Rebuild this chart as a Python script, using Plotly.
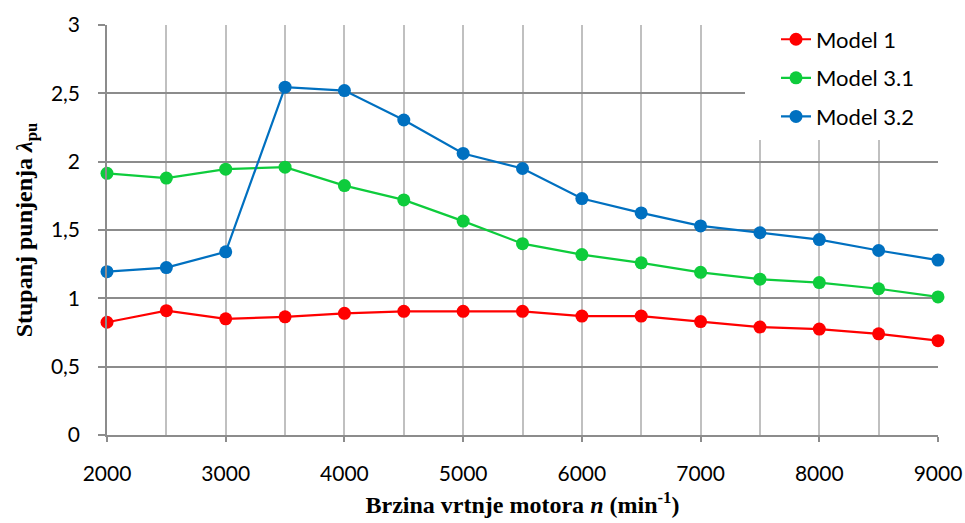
import plotly.graph_objects as go

speed = [2000, 2500, 3000, 3500, 4000, 4500, 5000, 5500, 6000, 6500, 7000, 7500, 8000, 8500, 9000]
model_1 = [0.825, 0.91, 0.85, 0.865, 0.89, 0.905, 0.905, 0.905, 0.87, 0.87, 0.83, 0.79, 0.775, 0.74, 0.69]
model_3_1 = [1.915, 1.88, 1.945, 1.96, 1.825, 1.72, 1.565, 1.40, 1.32, 1.26, 1.19, 1.14, 1.115, 1.07, 1.01]
model_3_2 = [1.195, 1.225, 1.34, 2.545, 2.52, 2.305, 2.06, 1.95, 1.73, 1.625, 1.53, 1.48, 1.43, 1.35, 1.28]

series_names = ["Model 1", "Model 3.1", "Model 3.2"]
series_colors = ["#ff0000", "#0ecc3c", "#0070c0"]

x_tickvals = [2000, 3000, 4000, 5000, 6000, 7000, 8000, 9000]
x_ticktext = ["2000", "3000", "4000", "5000", "6000", "7000", "8000", "9000"]
y_tickvals = [0, 0.5, 1, 1.5, 2, 2.5, 3]
y_ticktext = ["0", "0,5", "1", "1,5", "2", "2,5", "3"]

fig = go.Figure()
for i, (name, vals, col) in enumerate(zip(series_names, [model_1, model_3_1, model_3_2], series_colors)):
    fig.add_trace(go.Scatter(
        x=speed, y=vals, name=name, mode="lines+markers",
        line=dict(color=col, width=2.2),
        marker=dict(color=col, size=13),
        cliponaxis=False, legendgroup="g%d" % i,
    ))

tick_font = dict(family="Lato, Carlito, sans-serif", size=21, color="#000000")
title_font = dict(family="Liberation Serif, Times New Roman, serif", size=24, color="#000000")

# white background area behind the legend (as in the reference)
fig.add_shape(type="rect", xref="paper", yref="paper",
              x0=(745 - 107) / 831, x1=1.0, y0=(435 - 140) / 410, y1=1.03,
              fillcolor="white", line=dict(width=0), layer="above")

fig.update_layout(
    width=965, height=523,
    margin=dict(l=107, r=27, t=25, b=88),
    paper_bgcolor="white", plot_bgcolor="white",
    showlegend=True,
    legend=dict(
        x=(776 - 107) / 831, y=1.016, xanchor="left", yanchor="top",
        bgcolor="rgba(255,255,255,0)", font=dict(family="Lato, Carlito, sans-serif", size=22, color="#000000"),
        tracegroupgap=7, borderwidth=0,
    ),
    xaxis=dict(
        range=[2000, 9000], tickvals=x_tickvals, ticktext=x_ticktext,
        tickfont=tick_font, showgrid=True, gridcolor="#c0c0c0", gridwidth=1.5,
        minor=dict(dtick=500, tick0=2000, showgrid=True, gridcolor="#c0c0c0", gridwidth=1.5, ticks=""),
        showline=True, linecolor="#8c8c8c", linewidth=1.5,
        ticks="outside", ticklen=5, tickcolor="#8c8c8c", tickwidth=1.5,
        ticklabelstandoff=14, automargin=False,
        zeroline=False,
        title=dict(text="<b>Brzina vrtnje motora <i>n</i> (min<sup>-1</sup>)</b>", font=title_font, standoff=12),
    ),
    yaxis=dict(
        range=[0, 3], tickvals=y_tickvals, ticktext=y_ticktext,
        tickfont=tick_font, showgrid=True, gridcolor="#8c8c8c", gridwidth=1.5,
        showline=True, linecolor="#8c8c8c", linewidth=1.5,
        ticks="outside", ticklen=7, tickcolor="#8c8c8c", tickwidth=1.5,
        ticklabelstandoff=14, automargin=False,
        zeroline=False,
        title=dict(text="<b>Stupanj punjenja <i>λ</i><sub>pu</sub></b>", font=title_font, standoff=12),
    ),
)

fig.write_html("out.html", config={"displayModeBar": False},
               post_script="document.body.style.margin='0';document.body.style.overflow='hidden';")
